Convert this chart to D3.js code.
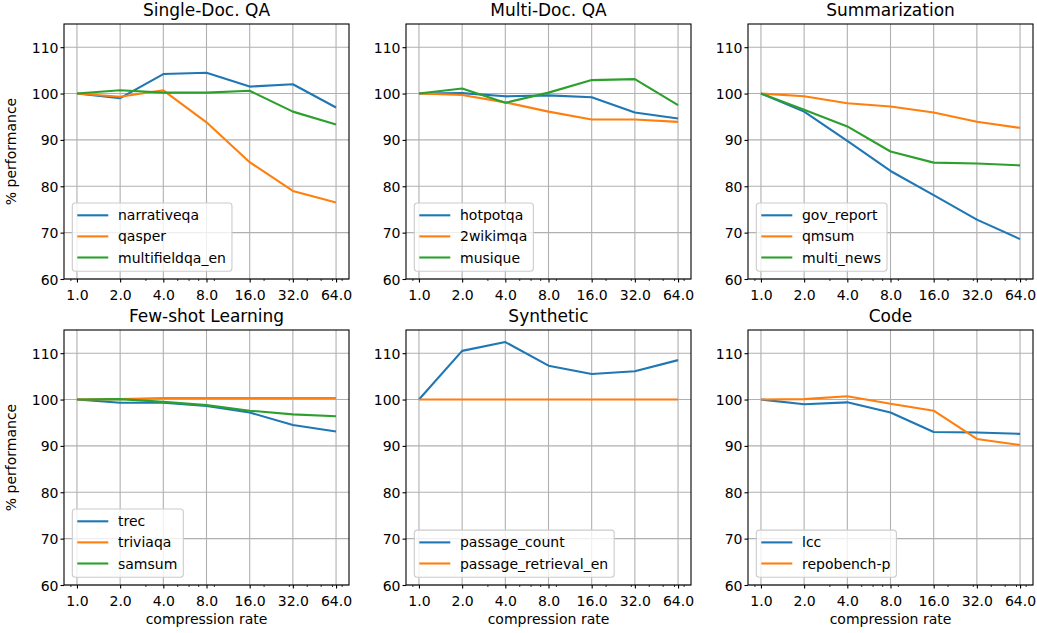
<!DOCTYPE html>
<html>
<head>
<meta charset="utf-8">
<script src="https://cdn.jsdelivr.net/npm/d3@7"></script>
<style>
  html, body { margin: 0; padding: 0; background: #fff; }
  svg { display: block; font-family: "DejaVu Sans", sans-serif; }
</style>
</head>
<body>
<svg id="chart" width="1037" height="633"></svg>
<script>
// ---- data ----
const compressionRates = [1, 2, 4, 8, 16, 32, 64];
const xTickValues = [1, 2, 4, 8, 16, 32, 64];
const xMinorTicks = [0.9, 3, 5, 6, 7, 9, 20, 30, 40, 50, 60, 70];
const yTickValues = [60, 70, 80, 90, 100, 110];

const panelTitles = ["Single-Doc. QA", "Multi-Doc. QA", "Summarization", "Few-shot Learning", "Synthetic", "Code"];

const narrativeqa     = [100, 99.0, 104.2, 104.5, 101.5, 102.0, 97.0];
const qasper          = [100, 99.3, 100.7, 93.8, 85.2, 79.0, 76.5];
const multifieldqa_en = [100, 100.7, 100.2, 100.2, 100.6, 96.1, 93.3];

const hotpotqa = [100, 100.1, 99.4, 99.6, 99.2, 95.9, 94.6];
const wikimqa2 = [100, 99.7, 98.1, 96.1, 94.4, 94.4, 93.9];
const musique  = [100, 101.1, 98.0, 100.2, 102.9, 103.1, 97.5];

const gov_report = [100, 96.1, 89.8, 83.3, 78.1, 72.8, 68.6];
const qmsum      = [100, 99.4, 97.9, 97.2, 95.9, 93.9, 92.6];
const multi_news = [100, 96.5, 92.9, 87.5, 85.1, 84.9, 84.5];

const trec     = [100, 99.3, 99.3, 98.6, 97.2, 94.5, 93.1];
const triviaqa = [100, 100.1, 100.3, 100.3, 100.3, 100.3, 100.3];
const samsum   = [100, 100.1, 99.5, 98.8, 97.6, 96.8, 96.4];

const passage_count        = [100, 110.5, 112.4, 107.3, 105.5, 106.1, 108.5];
const passage_retrieval_en = [100, 100, 100, 100, 100, 100, 100];

const lcc         = [100, 99.0, 99.4, 97.2, 93.0, 92.9, 92.6];
const repobench_p = [100, 100.1, 100.7, 99.1, 97.6, 91.5, 90.2];

const panelSeries = [
  [["narrativeqa", narrativeqa], ["qasper", qasper], ["multifieldqa_en", multifieldqa_en]],
  [["hotpotqa", hotpotqa], ["2wikimqa", wikimqa2], ["musique", musique]],
  [["gov_report", gov_report], ["qmsum", qmsum], ["multi_news", multi_news]],
  [["trec", trec], ["triviaqa", triviaqa], ["samsum", samsum]],
  [["passage_count", passage_count], ["passage_retrieval_en", passage_retrieval_en]],
  [["lcc", lcc], ["repobench-p", repobench_p]]
];

const colors = ["#1f77b4", "#ff7f0e", "#2ca02c"];

// ---- layout ----
const colLefts = [64, 406, 748];
const rowTops = [24, 330];
const W = 285, H = 255;
const FS = 14, TFS = 17;

const svg = d3.select("#chart");

panelSeries.forEach((series, i) => {
  const row = Math.floor(i / 3), col = i % 3;
  const g = svg.append("g").attr("transform", `translate(${colLefts[col]},${rowTops[row]})`);

  const x = d3.scaleLog().base(2).domain([Math.pow(2, -0.3), Math.pow(2, 6.3)]).range([0, W]);
  const y = d3.scaleLinear().domain([60, 115]).range([H, 0]);

  // grid
  g.append("g").selectAll("line").data(xTickValues).join("line")
    .attr("x1", d => x(d)).attr("x2", d => x(d)).attr("y1", 0).attr("y2", H)
    .attr("stroke", "#b0b0b0").attr("stroke-width", 1.1);
  g.append("g").selectAll("line").data(yTickValues).join("line")
    .attr("y1", d => y(d)).attr("y2", d => y(d)).attr("x1", 0).attr("x2", W)
    .attr("stroke", "#b0b0b0").attr("stroke-width", 1.1);

  // lines
  const line = d3.line().x((d, k) => x(compressionRates[k])).y(d => y(d));
  series.forEach(([name, vals], s) => {
    g.append("path").datum(vals).attr("d", line)
      .attr("fill", "none").attr("stroke", colors[s]).attr("stroke-width", 2.1)
      .attr("stroke-linejoin", "round").attr("stroke-linecap", "butt");
  });

  // axes
  const xAxis = g.append("g").attr("transform", `translate(0,${H})`)
    .call(d3.axisBottom(x).tickValues(xTickValues).tickFormat(d3.format(".1f")).tickSize(3.5).tickPadding(3).tickSizeOuter(0));
  const xMinor = g.append("g").attr("transform", `translate(0,${H})`)
    .call(d3.axisBottom(x).tickValues(xMinorTicks).tickFormat("").tickSize(2).tickSizeOuter(0));
  xMinor.select(".domain").remove();
  const yAxis = g.append("g")
    .call(d3.axisLeft(y).tickValues(yTickValues).tickSize(3.5).tickPadding(2).tickSizeOuter(0));
  [xAxis, yAxis].forEach(a => {
    a.select(".domain").remove();
    a.selectAll("text").attr("font-size", FS).attr("font-family", "DejaVu Sans").attr("fill", "#000");
    a.selectAll("line").attr("stroke", "#000").attr("stroke-width", 1.1);
  });
  xMinor.selectAll("line").attr("stroke", "#000").attr("stroke-width", 0.8);
  xAxis.selectAll("text").attr("dy", null).attr("y", 20.7);
  yAxis.selectAll("text").attr("dy", "0.36em");

  // frame
  g.append("rect").attr("x", 0).attr("y", 0).attr("width", W).attr("height", H)
    .attr("fill", "none").attr("stroke", "#000").attr("stroke-width", 1.1);

  // title
  g.append("text").attr("x", W / 2).attr("y", -8.5).attr("text-anchor", "middle")
    .attr("font-size", TFS).text(panelTitles[i]);

  // legend
  const n = series.length;
  const rowH = 21.1;
  const boxH = rowH * n + 5;
  const leg = g.append("g").attr("transform", `translate(8.3,${H - 7.7 - boxH})`);
  const box = leg.append("rect").attr("rx", 3).attr("ry", 3)
    .attr("fill", "#fff").attr("fill-opacity", 0.8)
    .attr("stroke", "#cccccc").attr("stroke-width", 1.1).attr("height", boxH);
  let maxW = 0;
  series.forEach(([name], s) => {
    const cy = 12.3 + s * rowH;
    leg.append("line").attr("x1", 5).attr("x2", 36).attr("y1", cy).attr("y2", cy)
      .attr("stroke", colors[s]).attr("stroke-width", 2.1);
    const t = leg.append("text").attr("x", 45.7).attr("y", cy).attr("dy", "0.36em")
      .attr("font-size", FS).text(name);
    maxW = Math.max(maxW, t.node().getComputedTextLength());
  });
  box.attr("width", 45.7 + maxW + 6);

  // axis labels
  if (col === 0) {
    svg.append("text").attr("transform", `translate(16,${rowTops[row] + H / 2}) rotate(-90)`)
      .attr("text-anchor", "middle").attr("font-size", FS).text("% performance");
  }
  if (row === 1) {
    svg.append("text").attr("x", colLefts[col] + W / 2).attr("y", 624)
      .attr("text-anchor", "middle").attr("font-size", FS).text("compression rate");
  }
});
</script>
</body>
</html>
